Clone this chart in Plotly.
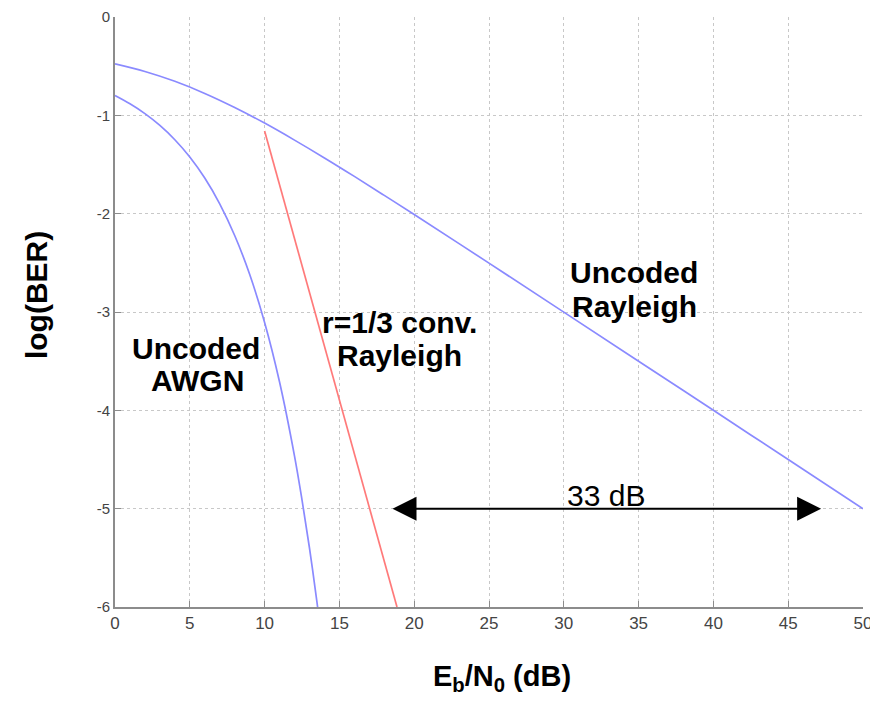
import plotly.graph_objects as go

# ---- data ----
rayleigh_x = [0, 2, 4, 6, 8, 10, 12, 14, 16, 18, 20, 25, 30, 35, 40, 45, 50]
rayleigh_y = [-0.477, -0.554, -0.654, -0.777, -0.920, -1.079, -1.252, -1.433,
              -1.621, -1.814, -2.009, -2.503, -3.001, -3.500, -4.000, -4.500, -5.000]

awgn_x = [0, 1, 2, 3, 4, 5, 6, 7, 8, 9, 10, 11, 12, 12.5, 13, 13.5, 13.6]
awgn_y = [-0.799, -0.883, -0.983, -1.103, -1.248, -1.424, -1.638, -1.900, -2.222,
          -2.616, -3.106, -3.712, -4.465, -4.91, -5.40, -5.95, -6.07]

conv_x = [10.0, 18.85]
conv_y = [-1.16, -6.0]

arrow_x = [18.45, 47.2]
arrow_y = [-5.0, -5.0]

x_ticks = [0, 5, 10, 15, 20, 25, 30, 35, 40, 45, 50]
y_ticks = [0, -1, -2, -3, -4, -5, -6]

BLUE = "#8a8aff"
RED = "#ff7a7a"
FONT = "Liberation Sans, Arial, sans-serif"

fig = go.Figure()
fig.add_trace(go.Scatter(x=rayleigh_x, y=rayleigh_y, mode="lines",
                         line=dict(color=BLUE, width=1.7, shape="spline"), showlegend=False))
fig.add_trace(go.Scatter(x=awgn_x, y=awgn_y, mode="lines",
                         line=dict(color=BLUE, width=1.7, shape="spline"), showlegend=False))
fig.add_trace(go.Scatter(x=conv_x, y=conv_y, mode="lines",
                         line=dict(color=RED, width=1.7), showlegend=False))

labels = [
    ("Uncoded", 5.4, -3.37, True),
    ("AWGN", 5.5, -3.70, True),
    ("r=1/3 conv.", 19.05, -3.11, True),
    ("Rayleigh", 19.05, -3.44, True),
    ("Uncoded", 34.7, -2.60, True),
    ("Rayleigh", 34.7, -2.94, True),
    ("33 dB", 32.8, -4.87, False),
]
annotations = []
for txt, x, y, bold in labels:
    annotations.append(dict(
        x=x, y=y, xref="x", yref="y", showarrow=False,
        text=f"<b>{txt}</b>" if bold else txt,
        font=dict(family=FONT, size=30, color="black"),
        xanchor="center", yanchor="middle"))

# double-headed arrow
annotations.append(dict(
    x=arrow_x[1], y=arrow_y[1], ax=arrow_x[0], ay=arrow_y[0],
    xref="x", yref="y", axref="x", ayref="y", text="", showarrow=True,
    arrowhead=2, startarrowhead=2, arrowside="end+start",
    arrowsize=2.4, startarrowsize=2.4, arrowwidth=2, arrowcolor="black", standoff=0, startstandoff=0))

# axis titles
annotations.append(dict(
    x=0.5175, y=-0.12, xref="paper", yref="paper", showarrow=False,
    text="<b>E<sub>b</sub>/N<sub>0</sub> (dB)</b>",
    font=dict(family=FONT, size=29, color="black"), xanchor="center", yanchor="middle"))
annotations.append(dict(
    x=-0.104, y=0.529, xref="paper", yref="paper", showarrow=False,
    text="<b>log(BER)</b>", textangle=-90,
    font=dict(family=FONT, size=30, color="black"), xanchor="center", yanchor="middle"))

fig.update_layout(
    width=868, height=690,
    margin=dict(l=107, r=13, t=9, b=91, autoexpand=False),
    paper_bgcolor="white", plot_bgcolor="white",
    annotations=annotations,
    font=dict(family=FONT),
)
fig.update_xaxes(
    range=[0, 50], tickvals=x_ticks, ticktext=[str(v) for v in x_ticks], automargin=False,
    ticklabeloverflow="allow",
    showline=True, linecolor="#8c8c8c", linewidth=2,
    ticks="inside", ticklen=6, tickcolor="#8c8c8c", tickwidth=1,
    showgrid=True, gridcolor="#c8c8c8", griddash="dot", gridwidth=1,
    zeroline=False, tickfont=dict(size=17, color="#444444"))
fig.update_yaxes(
    range=[-6, 0], tickvals=y_ticks, ticktext=[str(v) for v in y_ticks], automargin=False,
    ticklabeloverflow="allow",
    showline=True, linecolor="#8c8c8c", linewidth=2,
    ticks="inside", ticklen=6, tickcolor="#8c8c8c", tickwidth=1,
    showgrid=True, gridcolor="#c8c8c8", griddash="dot", gridwidth=1,
    zeroline=False, tickfont=dict(size=15, color="#444444"))

fig.write_html("out.html")
